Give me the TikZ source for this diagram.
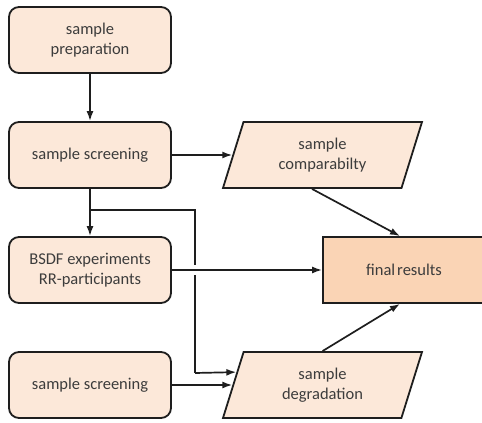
\documentclass[tikz,border=0pt]{standalone}
\usepackage{fontspec}
\setmainfont{Carlito}
\usepackage{tikz}
\usetikzlibrary{arrows.meta,shapes.geometric,calc}
\definecolor{boxfill}{RGB}{252,232,217}
\definecolor{resfill}{RGB}{250,212,181}
\definecolor{txtgray}{RGB}{60,60,60}
\definecolor{linegray}{RGB}{30,30,30}

\begin{document}
\begin{tikzpicture}[x=1pt,y=-1pt,
  font=\fontsize{16.5}{20}\selectfont, text=txtgray,
  stepbox/.style={draw=linegray,line width=1.8pt,fill=boxfill,rounded corners=10pt,
    minimum width=162pt,minimum height=66pt,align=center,inner sep=0pt},
  databox/.style={trapezium,trapezium left angle=59,trapezium right angle=121,
    trapezium stretches body,draw=linegray,line width=1.8pt,fill=boxfill,
    minimum width=199pt,minimum height=66pt,align=center,inner sep=0pt},
  resbox/.style={draw=linegray,line width=1.8pt,fill=resfill,
    minimum width=162pt,minimum height=66pt,inner sep=0pt},
  flow/.style={draw=linegray,line width=1.7pt,-{Latex[length=10pt,width=7pt]}}]
\useasboundingbox (0,0) rectangle (482,423);
\node[stepbox] (prep) at (90,40) {sample\\preparation};
\node[stepbox] (scr1) at (90,155) {sample screening};
\node[stepbox] (bsdf) at (90,270) {BSDF experiments\\RR-participants};
\node[stepbox] (scr2) at (90,385) {sample screening};
\node[databox] (comp) at (322.5,155) {sample\\comparabilty};
\node[databox] (deg) at (322.5,385) {sample\\degradation};
\node[resbox] (res) at (404,270) {final\kern2pt results};
\coordinate (split) at (scr1.south |- 0,210);
\coordinate (bend) at (195,210);
\coordinate (low) at (195,373);
\coordinate (hop) at (bend |- bsdf.east);
\path [flow] (prep) -- (scr1);
\path [flow] (scr1) -- (bsdf);
\path [flow] (scr2.east) -- (deg.left side);
\path [flow] (scr1) -- (comp.west);
\draw [linegray,line width=1.7pt] (split) -- (bend) -- (low);
\path [flow] (low) -- ($(deg.bottom left corner)!0.69!(deg.top left corner)$);
\fill [white] ($(hop)+(-3,-5)$) rectangle ($(hop)+(3,5)$);
\path [flow] (bsdf) -- (res);
\path [flow] (comp.bottom side) -- ([xshift=-4pt]res.north);
\path [flow] (deg.north) -- ([xshift=-4pt]res.south);
\end{tikzpicture}
\end{document}
